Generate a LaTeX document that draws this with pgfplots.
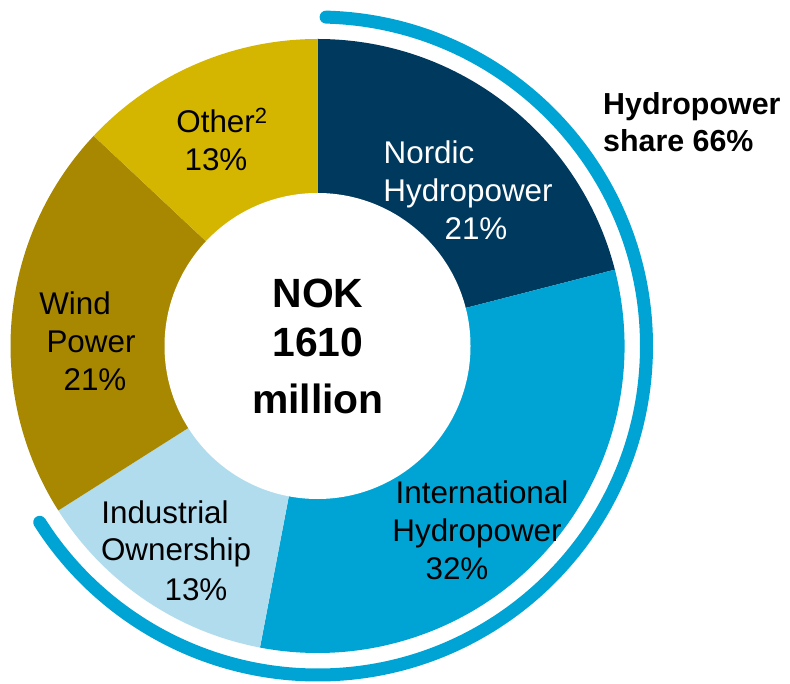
\documentclass[border=0pt]{standalone}
\usepackage{pgfplots}
\usepackage{pgfplotstable}
\pgfplotsset{compat=1.18}
\usepackage{fontspec}
\setmainfont{Liberation Sans}
\definecolor{cNordic}{RGB}{0,57,94}
\definecolor{cIntl}{RGB}{0,164,212}
\definecolor{cInd}{RGB}{176,220,238}
\definecolor{cWind}{RGB}{168,136,0}
\definecolor{cOther}{RGB}{212,181,0}

\pgfplotstableread{
label share
Nordic 21
International 32
Industrial 13
Wind 21
Other 13
}\shares

\pgfplotstablegetelem{0}{share}\of\shares \let\sA\pgfplotsretval
\pgfplotstablegetelem{1}{share}\of\shares \let\sB\pgfplotsretval
\pgfplotstablegetelem{2}{share}\of\shares \let\sC\pgfplotsretval
\pgfplotstablegetelem{3}{share}\of\shares \let\sD\pgfplotsretval
\pgfplotstablegetelem{4}{share}\of\shares \let\sE\pgfplotsretval
\pgfmathsetmacro\aZ{90}
\pgfmathsetmacro\aA{90-3.6*\sA}
\pgfmathsetmacro\aB{\aA-3.6*\sB}
\pgfmathsetmacro\aC{\aB-3.6*\sC}
\pgfmathsetmacro\aD{\aC-3.6*\sD}
\pgfmathsetmacro\aE{\aD-3.6*\sE}
\pgfmathsetmacro\hydroEnd{90-3.6*(\sA+\sB+\sC)}

\newcommand\lab{\fontsize{31.5}{38}\selectfont}
\newcommand\bigtxt{\fontsize{41}{52}\selectfont\bfseries}
\newcommand\side{\fontsize{30.5}{37}\selectfont\bfseries}

\begin{document}
\begin{tikzpicture}
\begin{axis}[
  scale only axis, width=790bp, height=683bp,
  xmin=0, xmax=790, ymin=0, ymax=683,
  hide axis, clip=false]
\path (rel axis cs:0,0) rectangle (rel axis cs:1,1);
\def\R{307bp}
\begin{scope}[overlay]
\fill[cNordic] (axis cs:317.5,337) -- ++(\aZ:\R) arc[start angle=\aZ, end angle=\aA, radius=\R] -- cycle;
\fill[cIntl] (axis cs:317.5,337) -- ++(\aA:\R) arc[start angle=\aA, end angle=\aB, radius=\R] -- cycle;
\fill[cInd] (axis cs:317.5,337) -- ++(\aB:\R) arc[start angle=\aB, end angle=\aC, radius=\R] -- cycle;
\fill[cWind] (axis cs:317.5,337) -- ++(\aC:\R) arc[start angle=\aC, end angle=\aD, radius=\R] -- cycle;
\fill[cOther] (axis cs:317.5,337) -- ++(\aD:\R) arc[start angle=\aD, end angle=\aE, radius=\R] -- cycle;
\fill[white] (axis cs:317.5,337) circle[radius=153bp];
\draw[cIntl, line width=13bp, line cap=round] (axis cs:317.5,337) ++(88.5:329bp) arc[start angle=88.5, end angle=\hydroEnd, radius=329bp];
\end{scope}
% labels
\node[anchor=base, inner sep=0] at (axis cs:222,550) {\lab Other\textsuperscript{2}};
\node[anchor=base, inner sep=0] at (axis cs:216,512) {\lab 13\%};
\node[anchor=base, inner sep=0, text=white] at (axis cs:429,519) {\lab Nordic};
\node[anchor=base, inner sep=0, text=white] at (axis cs:468,481) {\lab Hydropower};
\node[anchor=base, inner sep=0, text=white] at (axis cs:476,443) {\lab 21\%};
\node[anchor=base, inner sep=0] at (axis cs:482,180) {\lab International};
\node[anchor=base, inner sep=0] at (axis cs:477,142) {\lab Hydropower};
\node[anchor=base, inner sep=0] at (axis cs:457,104) {\lab 32\%};
\node[anchor=base, inner sep=0] at (axis cs:165,160) {\lab Industrial};
\node[anchor=base, inner sep=0] at (axis cs:176,123) {\lab Ownership};
\node[anchor=base, inner sep=0] at (axis cs:196,83) {\lab 13\%};
\node[anchor=base, inner sep=0] at (axis cs:75,368) {\lab Wind};
\node[anchor=base, inner sep=0] at (axis cs:91,330) {\lab Power};
\node[anchor=base, inner sep=0] at (axis cs:95,292) {\lab 21\%};
\node[anchor=base, inner sep=0] at (axis cs:318,375) {\bigtxt NOK};
\node[anchor=base, inner sep=0] at (axis cs:318,326) {\bigtxt 1610};
\node[anchor=base, inner sep=0] at (axis cs:318,270) {\bigtxt million};
\node[anchor=base west, inner sep=0] at (axis cs:603,568) {\side Hydropower};
\node[anchor=base west, inner sep=0] at (axis cs:603,531) {\side share 66\%};
\end{axis}
\end{tikzpicture}
\end{document}
